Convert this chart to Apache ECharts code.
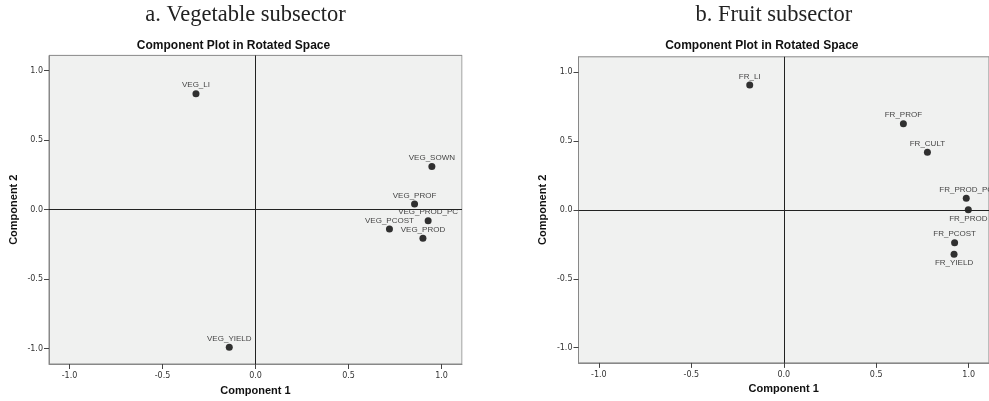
<!DOCTYPE html>
<html><head><meta charset="utf-8">
<script src="https://cdn.jsdelivr.net/npm/echarts@6/dist/echarts.min.js"></script>
<style>html,body{margin:0;padding:0;background:#fff}#c{width:989px;height:401px}</style>
</head><body><div id="c"></div>
<script>
// ---- data ----
const panelTitles = ['a. Vegetable subsector', 'b. Fruit subsector'];
const plotTitle = 'Component Plot in Rotated Space';
const xAxisName = 'Component 1';
const yAxisName = 'Component 2';
const tickValues = [-1.0, -0.5, 0.0, 0.5, 1.0];
const axisRange = [-1.11, 1.11];

const vegNames = ['VEG_LI', 'VEG_SOWN', 'VEG_PROF', 'VEG_PROD_PC', 'VEG_PCOST', 'VEG_PROD', 'VEG_YIELD'];
const vegComp1 = [-0.32, 0.948, 0.855, 0.928, 0.72, 0.90, -0.141];
const vegComp2 = [0.835, 0.31, 0.041, -0.079, -0.139, -0.206, -0.99];

const frNames = ['FR_LI', 'FR_PROF', 'FR_CULT', 'FR_PROD_PC', 'FR_PROD', 'FR_PCOST', 'FR_YIELD'];
const frComp1 = [-0.184, 0.647, 0.777, 0.987, 0.998, 0.924, 0.921];
const frComp2 = [0.906, 0.625, 0.418, 0.084, 0.0, -0.238, -0.322];

// ---- layout / style ----
const grids = [
  { left: 49, top: 55.4, width: 413, height: 308.6 },
  { left: 578.5, top: 56.8, width: 410.7, height: 306.1 }
];
const labelLayout = {
  VEG_LI: ['top', 9], VEG_SOWN: ['top', 8], VEG_PROF: ['top', 9], VEG_PROD_PC: ['top', 8],
  VEG_PCOST: ['top', -14], VEG_PROD: ['top', 9], VEG_YIELD: ['top', 9],
  FR_LI: ['top', 9], FR_PROF: ['top', 8], FR_CULT: ['top', 8], FR_PROD_PC: ['top', 1],
  FR_PROD: ['bottom', -18], FR_PCOST: ['top', 8.5], FR_YIELD: ['bottom', -18.6]
};
const sans = 'Liberation Sans, Arial, sans-serif';

function pts(names, c1, c2) {
  return names.map((n, i) => {
    const l = labelLayout[n];
    return {
      name: n, value: [c1[i], c2[i]],
      label: { position: l[0], offset: [l[1], l[0] === 'top' ? -1 : 0] }
    };
  });
}

function xAx(i) {
  return {
    type: 'value', gridIndex: i, min: axisRange[0], max: axisRange[1],
    name: xAxisName, nameLocation: 'middle', nameGap: 21,
    nameTextStyle: { fontFamily: sans, fontWeight: 'bold', fontSize: 11, color: '#111' },
    axisLine: { show: true, onZero: false, lineStyle: { color: '#888' } },
    axisTick: { show: true, customValues: tickValues, length: 5, lineStyle: { color: '#444' } },
    axisLabel: { customValues: tickValues, formatter: v => Number(v).toFixed(1), margin: 8,
      fontFamily: 'DejaVu Sans', fontSize: 8, color: '#333' },
    splitLine: { show: false }
  };
}
function yAx(i) {
  return {
    type: 'value', gridIndex: i, min: axisRange[0], max: axisRange[1],
    name: yAxisName, nameLocation: 'middle', nameGap: 30, nameRotate: 90,
    nameTextStyle: { fontFamily: sans, fontWeight: 'bold', fontSize: 11, color: '#111' },
    axisLine: { show: true, onZero: false, lineStyle: { color: '#888' } },
    axisTick: { show: true, customValues: tickValues, length: 5, lineStyle: { color: '#444' } },
    axisLabel: { customValues: tickValues, formatter: v => Number(v).toFixed(1), margin: 6,
      fontFamily: 'DejaVu Sans', fontSize: 8, color: '#333' },
    splitLine: { show: false }
  };
}
function ser(i, data) {
  return {
    type: 'scatter', xAxisIndex: i, yAxisIndex: i, data: data,
    symbol: 'circle', symbolSize: 7, itemStyle: { color: '#000' },
    label: { show: true, formatter: p => p.name, distance: 1,
      fontFamily: sans, fontSize: 8, color: '#111' },
    labelLayout: { hideOverlap: false },
    markLine: {
      silent: true, symbol: 'none', animation: false,
      lineStyle: { color: '#222', width: 1, type: 'solid' },
      label: { show: false },
      data: [{ xAxis: 0 }, { yAxis: 0 }]
    }
  };
}

const gfx = [];
grids.forEach((g, i) => {
  const cx = g.left + g.width / 2;
  gfx.push({ type: 'text', x: cx - 10, y: 15, z: 10,
    style: { text: panelTitles[i], align: 'center', verticalAlign: 'middle',
      font: '22.5px "Liberation Serif", "Times New Roman", serif', fill: '#222' } });
  gfx.push({ type: 'text', x: cx - 22, y: 46, z: 10,
    style: { text: plotTitle, align: 'center', verticalAlign: 'middle',
      font: 'bold 12px "Liberation Sans", Arial, sans-serif', fill: '#111' } });
});
// mask label overflow beyond the left plot's right border
gfx.push({ type: 'rect', z: 100,
  shape: { x: grids[0].left + grids[0].width + 0.5, y: grids[0].top, width: 30, height: grids[0].height },
  style: { fill: '#fff' } });

const option = {
  animation: false,
  backgroundColor: '#fff',
  grid: grids.map(g => Object.assign({ show: true, backgroundColor: '#f0f1f0', borderColor: '#888', borderWidth: 1 }, g)),
  xAxis: [xAx(0), xAx(1)],
  yAxis: [yAx(0), yAx(1)],
  series: [ser(0, pts(vegNames, vegComp1, vegComp2)), ser(1, pts(frNames, frComp1, frComp2))],
  graphic: gfx
};
const chart = echarts.init(document.getElementById('c'), null, { renderer: 'canvas' });
chart.setOption(option);
</script>
</body></html>
